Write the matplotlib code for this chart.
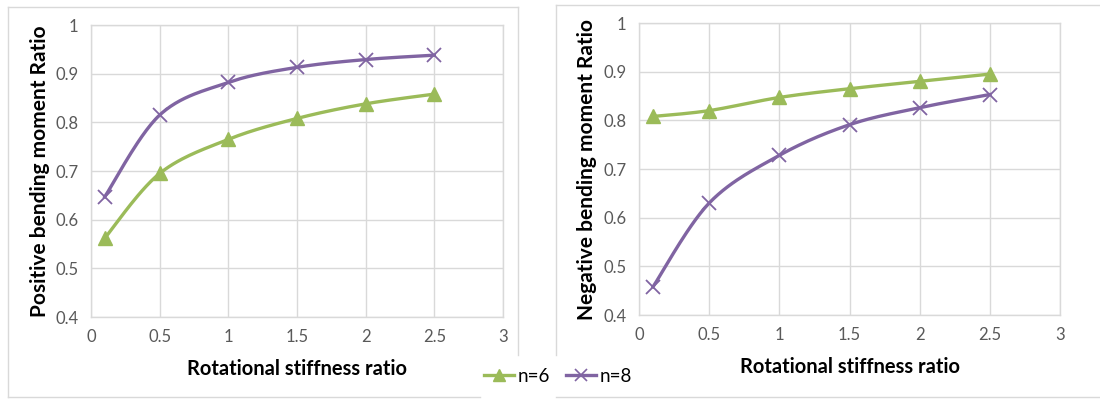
import matplotlib
matplotlib.use("Agg")
import matplotlib.pyplot as plt
from matplotlib.lines import Line2D
import numpy as np

x_vals = [0.1, 0.5, 1.0, 1.5, 2.0, 2.5]
pos_n6 = [0.562, 0.695, 0.765, 0.808, 0.838, 0.858]
pos_n8 = [0.647, 0.815, 0.882, 0.913, 0.929, 0.938]
neg_n6 = [0.808, 0.820, 0.847, 0.865, 0.880, 0.895]
neg_n8 = [0.458, 0.630, 0.728, 0.791, 0.826, 0.853]
x_ticks = [0, 0.5, 1, 1.5, 2, 2.5, 3]
x_tick_labels = ["0", "0.5", "1", "1.5", "2", "2.5", "3"]
y_ticks = [0.4, 0.5, 0.6, 0.7, 0.8, 0.9, 1.0]
y_tick_labels = ["0.4", "0.5", "0.6", "0.7", "0.8", "0.9", "1"]
series_labels = ["n=6", "n=8"]
y_titles = ["Positive bending moment Ratio", "Negative bending moment Ratio"]
x_title = "Rotational stiffness ratio"

GREEN = "#9BBB59"
PURPLE = "#8064A2"
GRID = "#D9D9D9"
TICK = "#595959"
FONT = ["Lato", "DejaVu Sans"]
plt.rcParams["font.family"] = FONT


def smooth(xs, ys, n=30):
    """Catmull-Rom style smoothing (like Excel's smoothed line) through the points."""
    xs = np.asarray(xs, float)
    ys = np.asarray(ys, float)
    px = np.concatenate([[xs[0]], xs, [xs[-1]]])
    py = np.concatenate([[ys[0]], ys, [ys[-1]]])
    ox, oy = [], []
    t = np.linspace(0, 1, n)
    for i in range(1, len(px) - 2):
        p0 = np.array([px[i], py[i]])
        p3 = np.array([px[i + 1], py[i + 1]])
        p1 = p0 + (np.array([px[i + 1], py[i + 1]]) - np.array([px[i - 1], py[i - 1]])) / 6
        p2 = p3 - (np.array([px[i + 2], py[i + 2]]) - np.array([px[i], py[i]])) / 6
        b = ((1 - t) ** 3)[:, None] * p0 + (3 * (1 - t) ** 2 * t)[:, None] * p1 \
            + (3 * (1 - t) * t ** 2)[:, None] * p2 + (t ** 3)[:, None] * p3
        ox.extend(b[:, 0])
        oy.extend(b[:, 1])
    return ox, oy


W, H = 1100, 399
fig = plt.figure(figsize=(W / 100, H / 100), dpi=100)

axes_px = [(91, 317, 412, 292), (639, 315, 421, 292)]
ylab_x = [40, 587]
data = [(pos_n6, pos_n8), (neg_n6, neg_n8)]

for k, (l, b, w, h) in enumerate(axes_px):
    ax = fig.add_axes([l / W, (H - b) / H, w / W, h / H])
    ax.set_xlim(0, 3)
    ax.set_ylim(0.4, 1.0)
    ax.set_xticks(x_ticks)
    ax.set_xticklabels(x_tick_labels)
    ax.set_yticks(y_ticks)
    ax.set_yticklabels(y_tick_labels)
    ax.grid(True, color=GRID, lw=1)
    ax.set_axisbelow(True)
    for s in ax.spines.values():
        s.set_color(GRID)
        s.set_linewidth(1)
    ax.tick_params(length=0, labelsize=12, labelcolor=TICK, pad=9)
    y6, y8 = data[k]
    sx, sy = smooth(x_vals, y6)
    ax.plot(sx, sy, color=GREEN, lw=2.4, zorder=3)
    ax.plot(x_vals, y6, ls="none", marker="^", ms=9.5, color=GREEN, zorder=4)
    sx, sy = smooth(x_vals, y8)
    ax.plot(sx, sy, color=PURPLE, lw=2.4, zorder=3)
    ax.plot(x_vals, y8, ls="none", marker="x", ms=9.5, mew=1.3, color=PURPLE, zorder=4)
    fig.text(ylab_x[k] / W, (H - (b - h / 2)) / H, y_titles[k], rotation=90,
             ha="center", va="center", fontsize=15, fontweight="bold")

fig.text(297 / W, 1 - 369 / H, x_title, ha="center", va="center", fontsize=14.5, fontweight="bold")
fig.text(850 / W, 1 - 367 / H, x_title, ha="center", va="center", fontsize=14.5, fontweight="bold")

# panel borders
border = dict(color="#D9D9D9", lw=1)
fig.add_artist(Line2D([8 / W, 518 / W], [1 - 7 / H, 1 - 7 / H], transform=fig.transFigure, **border))
fig.add_artist(Line2D([8 / W, 8 / W], [1 - 7 / H, 1 - 397 / H], transform=fig.transFigure, **border))
fig.add_artist(Line2D([518 / W, 518 / W], [1 - 7 / H, 1 - 355 / H], transform=fig.transFigure, **border))
fig.add_artist(Line2D([8 / W, 480 / W], [1 - 397 / H, 1 - 397 / H], transform=fig.transFigure, **border))
fig.add_artist(Line2D([556 / W, 1100 / W], [1 - 5 / H, 1 - 5 / H], transform=fig.transFigure, **border))
fig.add_artist(Line2D([556 / W, 556 / W], [1 - 5 / H, 1 - 355 / H], transform=fig.transFigure, **border))
fig.add_artist(Line2D([556 / W, 1100 / W], [1 - 397 / H, 1 - 397 / H], transform=fig.transFigure, **border))

handles = [Line2D([], [], color=GREEN, lw=2.4, marker="^", ms=8),
           Line2D([], [], color=PURPLE, lw=2.4, marker="x", ms=8, mew=1.2)]
fig.legend(handles, series_labels, loc="center", bbox_to_anchor=(558 / W, 1 - 376 / H),
           ncol=2, frameon=False, fontsize=13.5, handlelength=1.6, handletextpad=0.15,
           columnspacing=0.9)

fig.savefig("out.png", dpi=100, facecolor="white")
